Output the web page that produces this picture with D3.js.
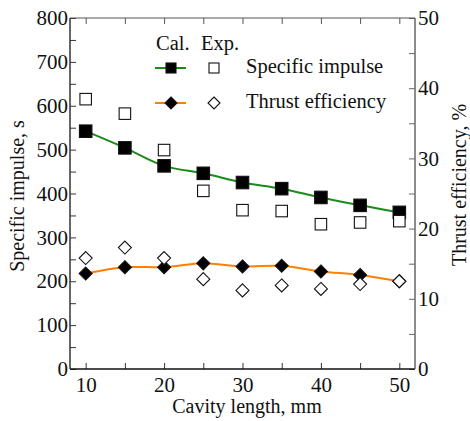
<!DOCTYPE html>
<html>
<head>
<meta charset="utf-8">
<script src="https://cdn.jsdelivr.net/npm/d3@7"></script>
<style>
  html, body { margin: 0; padding: 0; background: #fff; }
  svg { display: block; }
  svg text { font-family: "Liberation Serif", "Times New Roman", serif !important; fill: #111; }
</style>
</head>
<body>
<svg id="chart" width="470" height="421"></svg>
<script>
// Cavity length, mm
const cavityLength = [10, 15, 20, 25, 30, 35, 40, 45, 50];
// Specific impulse, s
const impulseCal = [542, 504, 463, 446, 425, 411, 391, 373, 357];
const impulseExp = [615, 582, 499, 406, 362, 360, 330, 334, 337];
// Thrust efficiency, %
const efficiencyCal = [13.6, 14.5, 14.5, 15.05, 14.6, 14.7, 13.9, 13.4, 12.5];
const efficiencyExp = [15.8, 17.3, 15.8, 12.8, 11.2, 11.9, 11.4, 12.1, 12.5];

const leftTicks = [0, 100, 200, 300, 400, 500, 600, 700, 800];
const rightTicks = [0, 10, 20, 30, 40, 50];
const bottomTicks = [10, 20, 30, 40, 50];

const FONT = "Liberation Serif";
const svg = d3.select("#chart");
const m = { left: 70, right: 415, top: 18, bottom: 369 };

const x = d3.scaleLinear().domain([8, 52]).range([m.left, m.right]);
const yL = d3.scaleLinear().domain([0, 800]).range([m.bottom, m.top]);
const yR = d3.scaleLinear().domain([0, 50]).range([m.bottom, m.top]);

const frame = "#333";
const tickFont = 21;

// Axes with inward ticks (major + minor)
function styleAxis(g, color) {
  g.attr("font-family", FONT);
  g.select(".domain").remove();
  g.selectAll("line").attr("stroke", color).attr("stroke-width", 1);
  g.selectAll("text").attr("font-family", FONT).style("font-size", tickFont + "px").attr("fill", "#111");
}

const minorX = d3.range(10, 51, 5);
const minorL = d3.range(0, 801, 50);
const minorR = d3.range(0, 51, 5);

// bottom
svg.append("g").attr("transform", `translate(0,${m.bottom})`)
  .call(d3.axisBottom(x).tickValues(minorX).tickSize(-6).tickFormat(""))
  .call(g => styleAxis(g, frame));
svg.append("g").attr("transform", `translate(0,${m.bottom})`)
  .call(d3.axisBottom(x).tickValues(bottomTicks).tickSize(0).tickPadding(8).tickFormat(d3.format("d")))
  .call(g => styleAxis(g, frame));
// top
svg.append("g").attr("transform", `translate(0,${m.top})`)
  .call(d3.axisTop(x).tickValues(minorX).tickSize(-6).tickFormat(""))
  .call(g => styleAxis(g, "#555"));
// left
svg.append("g").attr("transform", `translate(${m.left},0)`)
  .call(d3.axisLeft(yL).tickValues(minorL).tickSize(-6).tickFormat(""))
  .call(g => styleAxis(g, frame));
svg.append("g").attr("transform", `translate(${m.left},0)`)
  .call(d3.axisLeft(yL).tickValues(leftTicks).tickSize(0).tickPadding(2).tickFormat(d3.format("d")))
  .call(g => styleAxis(g, frame));
// right
svg.append("g").attr("transform", `translate(${m.right},0)`)
  .call(d3.axisRight(yR).tickValues(minorR).tickSize(-6).tickFormat(""))
  .call(g => styleAxis(g, "#666"));
svg.append("g").attr("transform", `translate(${m.right},0)`)
  .call(d3.axisRight(yR).tickValues(rightTicks).tickSize(0).tickPadding(3).tickFormat(d3.format("d")))
  .call(g => styleAxis(g, "#666"));

// frame lines
svg.append("line").attr("x1", m.left).attr("x2", m.right).attr("y1", m.bottom).attr("y2", m.bottom).attr("stroke", "#111").attr("stroke-width", 1.5);
svg.append("line").attr("x1", m.left).attr("x2", m.left).attr("y1", m.top).attr("y2", m.bottom).attr("stroke", frame).attr("stroke-width", 1.5);
svg.append("line").attr("x1", m.left).attr("x2", m.right).attr("y1", m.top).attr("y2", m.top).attr("stroke", "#555").attr("stroke-width", 1.2);
svg.append("line").attr("x1", m.right).attr("x2", m.right).attr("y1", m.top).attr("y2", m.bottom).attr("stroke", "#666").attr("stroke-width", 1.5);

// axis titles
function title(sel) { return sel.attr("font-family", FONT).style("font-size", "20px").attr("text-anchor", "middle"); }
title(svg.append("text").attr("x", 247).attr("y", 413)).text("Cavity length, mm");
title(svg.append("text").attr("transform", "translate(24,196) rotate(-90)")).text("Specific impulse, s");
title(svg.append("text").attr("transform", "translate(466,185) rotate(-90)")).text("Thrust efficiency, %");

// series
const green = "#1a8a1a";
const orange = "#ff8000";
const curve = d3.curveCatmullRom.alpha(0.5);

const impLine = d3.line().x((d, i) => x(cavityLength[i])).y(d => yL(d)).curve(curve);
const effLine = d3.line().x((d, i) => x(cavityLength[i])).y(d => yR(d)).curve(curve);

svg.append("path").attr("d", impLine(impulseCal)).attr("fill", "none").attr("stroke", green).attr("stroke-width", 2);
svg.append("path").attr("d", effLine(efficiencyCal)).attr("fill", "none").attr("stroke", orange).attr("stroke-width", 2);

function square(g, cx, cy, s, fill) {
  g.append("rect").attr("x", cx - s / 2).attr("y", cy - s / 2).attr("width", s).attr("height", s)
    .attr("fill", fill).attr("stroke", "#111").attr("stroke-width", 1.1);
}
function diamond(g, cx, cy, r, fill) {
  g.append("path").attr("d", `M${cx},${cy - r}L${cx + r},${cy}L${cx},${cy + r}L${cx - r},${cy}Z`)
    .attr("fill", fill).attr("stroke", "#111").attr("stroke-width", 1.1);
}

const marks = svg.append("g");
impulseCal.forEach((v, i) => square(marks, x(cavityLength[i]), yL(v), 12.5, "#000"));
efficiencyCal.forEach((v, i) => diamond(marks, x(cavityLength[i]), yR(v), 6.5, "#000"));
impulseExp.forEach((v, i) => square(marks, x(cavityLength[i]), yL(v), 11.5, "#fff"));
efficiencyExp.forEach((v, i) => diamond(marks, x(cavityLength[i]), yR(v), 6.5, "#fff"));

// legend
const lg = svg.append("g");
function ltext(sel) { return sel.attr("font-family", FONT).style("font-size", "20.5px"); }
ltext(lg.append("text").attr("x", 156).attr("y", 50)).text("Cal.");
ltext(lg.append("text").attr("x", 201).attr("y", 50)).text("Exp.");
const rows = [
  { y: 68, color: green, label: "Specific impulse", shape: "sq" },
  { y: 103, color: orange, label: "Thrust efficiency", shape: "dm" }
];
rows.forEach(r => {
  lg.append("line").attr("x1", 155).attr("x2", 186).attr("y1", r.y).attr("y2", r.y)
    .attr("stroke", r.color).attr("stroke-width", 2);
  if (r.shape === "sq") { square(lg, 171, r.y, 10, "#000"); square(lg, 214, r.y, 10, "#fff"); }
  else { diamond(lg, 171, r.y, 6, "#000"); diamond(lg, 214, r.y, 6, "#fff"); }
  ltext(lg.append("text").attr("x", 246).attr("y", r.y + 4.5)).text(r.label);
});
</script>
</body>
</html>
